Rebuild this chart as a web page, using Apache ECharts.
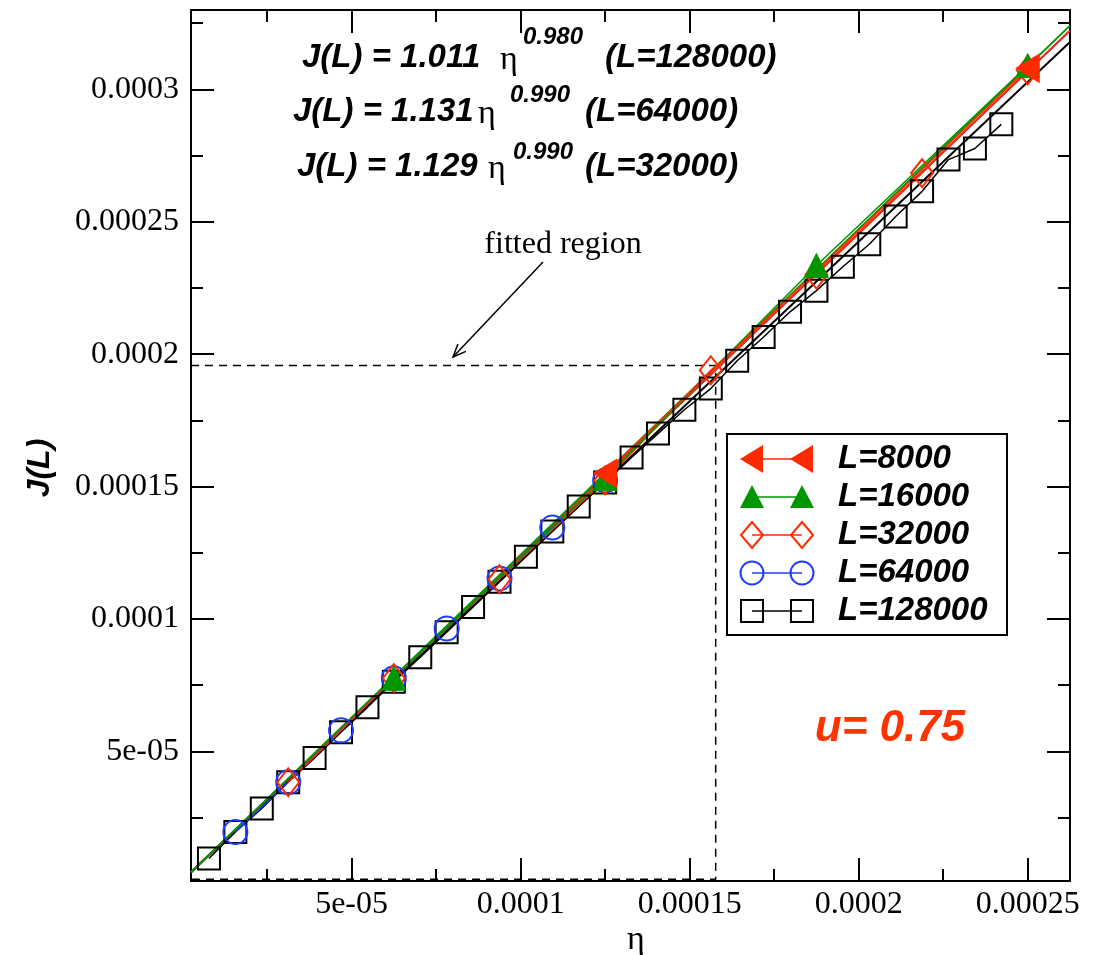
<!DOCTYPE html>
<html>
<head>
<meta charset="utf-8">
<script src="https://cdn.jsdelivr.net/npm/echarts@6/dist/echarts.min.js"></script>
<style>
  html, body { margin: 0; padding: 0; background: #fff; }
  #chart { width: 1103px; height: 955px; }
</style>
</head>
<body>
<div id="chart"></div>
<script>
// axis ranges and ticks
const xMin = 2.5e-6, xMax = 2.625e-4
const yMin = 1e-6, yMax = 3.3e-4
const xTicks = [5e-5, 1e-4, 1.5e-4, 2e-4, 2.5e-4]
const xTickLabels = ['5e-05', '0.0001', '0.00015', '0.0002', '0.00025']
const xMinor = [2.5e-5, 7.5e-5, 1.25e-4, 1.75e-4, 2.25e-4]
const yTicks = [5e-5, 1e-4, 1.5e-4, 2e-4, 2.5e-4, 3e-4]
const yTickLabels = ['5e-05', '0.0001', '0.00015', '0.0002', '0.00025', '0.0003']
const yMinor = [2.5e-5, 7.5e-5, 1.25e-4, 1.75e-4, 2.25e-4, 2.75e-4, 3.25e-4]

// data, eta = k / L
const eta8000 = [1.25e-4, 2.5e-4]
const j8000 = [1.55e-4, 3.08e-4]
const eta16000 = [6.25e-5, 1.25e-4, 1.875e-4, 2.5e-4]
const j16000 = [7.76e-5, 1.531e-4, 2.335e-4, 3.09e-4]
const eta32000 = [3.125e-5, 6.25e-5, 9.375e-5, 1.25e-4, 1.5625e-4, 1.875e-4, 2.1875e-4, 2.5e-4]
const j32000 = [3.83e-5, 7.76e-5, 1.15e-4, 1.523e-4, 1.939e-4, 2.30e-4, 2.684e-4, 3.072e-4]
const eta64000 = [1.5625e-5, 3.125e-5, 4.6875e-5, 6.25e-5, 7.8125e-5, 9.375e-5, 1.09375e-4, 1.25e-4]
const j64000 = [1.952e-5, 3.83e-5, 5.79e-5, 7.76e-5, 9.64e-5, 1.153e-4, 1.345e-4, 1.523e-4]
const eta128000 = [
  7.8125e-6, 1.5625e-5, 2.34375e-5, 3.125e-5, 3.90625e-5, 4.6875e-5, 5.46875e-5, 6.25e-5,
  7.03125e-5, 7.8125e-5, 8.59375e-5, 9.375e-5, 1.015625e-4, 1.09375e-4, 1.171875e-4, 1.25e-4,
  1.328125e-4, 1.40625e-4, 1.484375e-4, 1.5625e-4, 1.640625e-4, 1.71875e-4, 1.796875e-4, 1.875e-4,
  1.953125e-4, 2.03125e-4, 2.109375e-4, 2.1875e-4, 2.265625e-4, 2.34375e-4, 2.421875e-4
]
const j128000 = [
  9.48e-6, 1.95e-5, 2.84e-5, 3.83e-5, 4.75e-5, 5.72e-5, 6.66e-5, 7.63e-5,
  8.55e-5, 9.50e-5, 1.045e-4, 1.14e-4, 1.235e-4, 1.33e-4, 1.425e-4, 1.515e-4,
  1.61e-4, 1.70e-4, 1.79e-4, 1.87e-4, 1.975e-4, 2.065e-4, 2.16e-4, 2.24e-4,
  2.33e-4, 2.415e-4, 2.52e-4, 2.615e-4, 2.735e-4, 2.777e-4, 2.868e-4
]

// fitted lines, end points
const fitEta = [2.5e-6, 2.625e-4]
const fitGreen = [4.3e-6, 3.241e-4]
const fitRed = [4.3e-6, 3.222e-4]
const fitBlue = [4.3e-6, 3.222e-4]
const fitBlack = [4.3e-6, 3.179e-4]

// fitted region box
const regionEta = [2.5e-6, 1.577e-4, 1.577e-4, 2.5e-6]
const regionJ = [1.957e-4, 1.957e-4, 1.66e-6, 1.66e-6]

const RED = '#ff2a00'
const GREEN = '#009600'
const BLUE = '#1e3cff'
const SERIF = '"Liberation Serif", "Times New Roman", serif'
const SANS = '"Liberation Sans", Arial, sans-serif'

const pairs = (xs, ys) => xs.map((x, i) => [x, ys[i]])
const pick = (vals, labels) => v => {
  const i = vals.findIndex(t => Math.abs(t - v) < 1e-10)
  return i < 0 ? '' : labels[i]
}

const chart = echarts.init(document.getElementById('chart'))

function xAxisCfg(pos, ticks, len, labels) {
  return {
    type: 'value', position: pos, min: xMin, max: xMax,
    axisLine: { show: len > 15, onZero: false, lineStyle: { color: '#000', width: 2 } },
    splitLine: { show: false },
    axisTick: { show: true, inside: true, length: len, customValues: ticks, lineStyle: { color: '#000', width: 2 } },
    axisLabel: labels ? {
      show: true, customValues: ticks, formatter: pick(xTicks, xTickLabels), margin: 8,
      color: '#000', fontFamily: SERIF, fontSize: 32
    } : { show: false }
  }
}
function yAxisCfg(pos, ticks, len, labels) {
  return {
    type: 'value', position: pos, min: yMin, max: yMax,
    axisLine: { show: len > 15, onZero: false, lineStyle: { color: '#000', width: 2 } },
    splitLine: { show: false },
    axisTick: { show: true, inside: true, length: len, customValues: ticks, lineStyle: { color: '#000', width: 2 } },
    axisLabel: labels ? {
      show: true, customValues: ticks, formatter: pick(yTicks, yTickLabels), margin: 12,
      color: '#000', fontFamily: SERIF, fontSize: 32
    } : { show: false }
  }
}

function dataSeries(name, xs, ys, color, symbol, size, filled, rotate) {
  return {
    name, type: 'line', data: pairs(xs, ys),
    symbol, symbolSize: size, symbolRotate: rotate || 0, showSymbol: true,
    lineStyle: { color, width: 1.5 },
    itemStyle: filled ? { color, borderColor: color, borderWidth: 1 }
                      : { color: 'rgba(0,0,0,0)', borderColor: color, borderWidth: 2 },
    z: 3
  }
}
function fitSeries(ys, color) {
  return {
    type: 'line', data: pairs(fitEta, ys), symbol: 'none',
    lineStyle: { color, width: 2 }, z: 2
  }
}

// legend rows
const legendRows = [
  { text: 'L=8000', y: 459 },
  { text: 'L=16000', y: 497 },
  { text: 'L=32000', y: 535 },
  { text: 'L=64000', y: 573 },
  { text: 'L=128000', y: 611 }
]
const lx1 = 752, lx2 = 802
const legendGraphics = [
  { type: 'rect', shape: { x: 727, y: 434, width: 280, height: 201 }, style: { fill: '#fff', stroke: '#000', lineWidth: 2 }, z: 10 }
]
legendRows.forEach((r, i) => {
  const color = [RED, GREEN, RED, BLUE, '#000'][i]
  legendGraphics.push({ type: 'line', shape: { x1: lx1, y1: r.y, x2: lx2, y2: r.y }, style: { stroke: color, lineWidth: 1.5 }, z: 11 })
  ;[lx1, lx2].forEach(cx => {
    let g
    if (i === 0) g = { type: 'polygon', shape: { points: [[cx - 12, r.y], [cx + 11, r.y - 14], [cx + 11, r.y + 14]] }, style: { fill: RED } }
    else if (i === 1) g = { type: 'polygon', shape: { points: [[cx, r.y - 12], [cx + 12, r.y + 11], [cx - 12, r.y + 11]] }, style: { fill: GREEN } }
    else if (i === 2) g = { type: 'polygon', shape: { points: [[cx, r.y - 13], [cx + 11, r.y], [cx, r.y + 13], [cx - 11, r.y]] }, style: { fill: 'none', stroke: RED, lineWidth: 2 } }
    else if (i === 3) g = { type: 'circle', shape: { cx, cy: r.y, r: 11.5 }, style: { fill: 'none', stroke: BLUE, lineWidth: 2 } }
    else g = { type: 'rect', shape: { x: cx - 11, y: r.y - 11, width: 22, height: 22 }, style: { fill: 'none', stroke: '#000', lineWidth: 2 } }
    g.z = 12
    legendGraphics.push(g)
  })
  legendGraphics.push({
    type: 'text', x: 838, y: r.y, z: 12,
    style: { text: r.text, fill: '#000', font: 'italic bold 33px ' + SANS, textAlign: 'left', textVerticalAlign: 'middle' }
  })
})

// fit equations
const eqFont = 'italic bold 33px ' + SANS
const supFont = 'italic bold 24px ' + SANS
const etaFont = '34px ' + SERIF
const eqs = [
  { a: 'J(L) = 1.011', ax: 302, ex: 500, sup: '0.980', sx: 523, b: '(L=128000)', bx: 605, y: 58, sy: 37 },
  { a: 'J(L) = 1.131', ax: 293, ex: 478, sup: '0.990', sx: 510, b: '(L=64000)', bx: 585, y: 112, sy: 95 },
  { a: 'J(L) = 1.129', ax: 297, ex: 488, sup: '0.990', sx: 513, b: '(L=32000)', bx: 585, y: 167, sy: 152 }
]
const eqGraphics = []
eqs.forEach(e => {
  eqGraphics.push({ type: 'text', x: e.ax, y: e.y, style: { text: e.a, font: eqFont, fill: '#000', textVerticalAlign: 'middle' } })
  eqGraphics.push({ type: 'text', x: e.ex, y: e.y + 2, style: { text: 'η', font: etaFont, fill: '#000', textVerticalAlign: 'middle' } })
  eqGraphics.push({ type: 'text', x: e.sx, y: e.sy, style: { text: e.sup, font: supFont, fill: '#000', textVerticalAlign: 'middle' } })
  eqGraphics.push({ type: 'text', x: e.bx, y: e.y, style: { text: e.b, font: eqFont, fill: '#000', textVerticalAlign: 'middle' } })
})

// arrow for "fitted region"
const ax1 = 543, ay1 = 262, ax2 = 453, ay2 = 357
const ang = Math.atan2(ay2 - ay1, ax2 - ax1)
const head = 14
const arrowGraphics = [
  { type: 'line', shape: { x1: ax1, y1: ay1, x2: ax2, y2: ay2 }, style: { stroke: '#000', lineWidth: 1.5 } },
  {
    type: 'polyline',
    shape: { points: [
      [ax2 - head * Math.cos(ang - 0.4), ay2 - head * Math.sin(ang - 0.4)],
      [ax2, ay2],
      [ax2 - head * Math.cos(ang + 0.4), ay2 - head * Math.sin(ang + 0.4)]
    ] },
    style: { stroke: '#000', lineWidth: 1.5, fill: 'none' }
  },
  { type: 'text', x: 563, y: 245, style: { text: 'fitted region', font: '32px ' + SERIF, fill: '#000', textAlign: 'center', textVerticalAlign: 'middle' } }
]

const option = {
  backgroundColor: '#fff',
  animation: false,
  grid: { left: 191, right: 33, top: 10, bottom: 74, containLabel: false },
  xAxis: [
    xAxisCfg('bottom', xTicks, 23, true),
    xAxisCfg('bottom', xMinor, 12, false),
    xAxisCfg('top', xTicks, 23, false),
    xAxisCfg('top', xMinor, 12, false)
  ],
  yAxis: [
    yAxisCfg('left', yTicks, 23, true),
    yAxisCfg('left', yMinor, 12, false),
    yAxisCfg('right', yTicks, 23, false),
    yAxisCfg('right', yMinor, 12, false)
  ],
  series: [
    {
      type: 'line', data: pairs(regionEta, regionJ), symbol: 'none',
      lineStyle: { color: '#000', width: 1.5, type: [8, 6] }, z: 1
    },
    fitSeries(fitBlue, BLUE),
    fitSeries(fitBlack, '#000'),
    fitSeries(fitRed, RED),
    fitSeries(fitGreen, GREEN),
    dataSeries('L=128000', eta128000, j128000, '#000', 'rect', 22, false),
    dataSeries('L=64000', eta64000, j64000, BLUE, 'circle', 24, false),
    dataSeries('L=32000', eta32000, j32000, RED, 'diamond', [22, 28], false),
    dataSeries('L=16000', eta16000, j16000, GREEN, 'triangle', 24, true),
    dataSeries('L=8000', eta8000, j8000, RED, 'triangle', [28, 23], true, 90)
  ],
  graphic: [
    ...eqGraphics,
    ...arrowGraphics,
    ...legendGraphics,
    { type: 'text', x: 890, y: 729, style: { text: 'u= 0.75', font: 'italic bold 44px ' + SANS, fill: '#ff3300', textAlign: 'center', textVerticalAlign: 'middle' } },
    { type: 'text', x: 636, y: 940, style: { text: 'η', font: '34px ' + SERIF, fill: '#000', textAlign: 'center', textVerticalAlign: 'middle' } },
    { type: 'text', x: 40, y: 468, rotation: Math.PI / 2, style: { text: 'J(L)', font: 'italic bold 32px ' + SANS, fill: '#000', textAlign: 'center', textVerticalAlign: 'middle' } }
  ]
}
chart.setOption(option)
</script>
</body>
</html>
